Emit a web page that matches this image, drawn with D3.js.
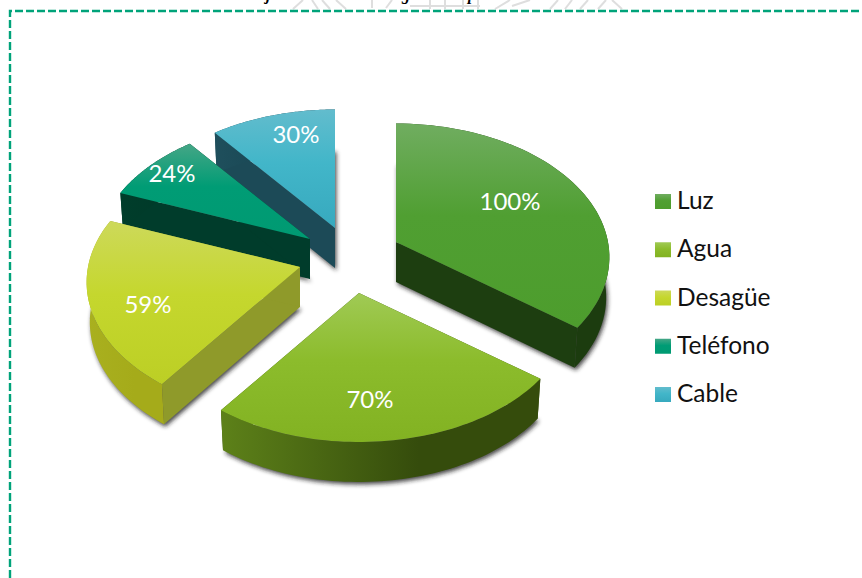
<!DOCTYPE html>
<html><head><meta charset="utf-8">
<script src="https://cdn.jsdelivr.net/npm/d3@7"></script>
<style>html,body{margin:0;padding:0;background:#fff}svg{display:block}text{font-family:Lato,Carlito,sans-serif}</style>
</head><body><div id="c"></div>
<script>
const categories = ["Luz","Agua","Desagüe","Teléfono","Cable"];
const values = [100,70,59,24,30];
const labels = ["100%","70%","59%","24%","30%"];

// layout / style only
const W=862,H=578,R=212,RY=132,K=0.114,DEPTH=40,SHRINK=0.985;
const apex=[[396,242],[359,293],[300,267],[310,239],[335,228]];
const labelPos=[[510,202],[370,400],[148,305],[172,174],[296,135]];
const topStops=[
 ["#70ad60","#509f32","#4d9d2d"],["#a0ca55","#8cbc2c","#82b222"],
 ["#cdd95a","#c5d72e","#bccf25"],["#45a686","#009c75","#009a72"],["#62bccd","#42b6c9","#37a9be"]];
const wallColors=[["#1e4011","#1c3c0f"],["#5d8119","#354c0c"],["#a9b01f","#a5ab1a"],["#003d2b","#003a29"],["#1f4f5c","#164451"]];
const sideColors=["#1d3e10","#3c540f","#8f9a2a","#003c2b","#1c4a57"];
const order=[4,3,0,2,1];

const svg=d3.select("#c").append("svg").attr("width",W).attr("height",H);
const defs=svg.append("defs");
const f=defs.append("filter").attr("id","sh").attr("x","-10%").attr("y","-10%").attr("width","125%").attr("height","125%");
f.append("feGaussianBlur").attr("stdDeviation",2);

const pie=d3.pie().sort(null).value(d=>d)(values);
const color=d3.scaleOrdinal(categories,d3.range(categories.length));

categories.forEach((c,i)=>{
  const g=defs.append("linearGradient").attr("id","top"+i).attr("x1",0).attr("y1",0).attr("x2",0).attr("y2",1);
  [0,.45,1].forEach((o,j)=>g.append("stop").attr("offset",o).attr("stop-color",topStops[i][j]));
  const w=defs.append("linearGradient").attr("id","wall"+i).attr("x1",0).attr("y1",0).attr("x2",1).attr("y2",0);
  w.append("stop").attr("offset",0).attr("stop-color",wallColors[i][0]);
  w.append("stop").attr("offset",.62).attr("stop-color",wallColors[i][1]);
});

// faint watermark strokes at the page head
const wm=[[293,9,303,0],[318,9,312,0],[330,9,322,0],[346,9,336,0],[372,8,372,0],[386,8,392,0],[410,6,480,6],[430,9,430,0],[445,9,445,0],[463,9,463,0],[478,9,478,0],[495,9,510,0],[512,6,530,0],[550,9,558,0],[565,9,572,0],[580,9,588,0],[598,9,606,0],[622,9,612,0]];
svg.append("g").attr("stroke","#dedede").attr("stroke-width",2).selectAll("line").data(wm).join("line")
  .attr("x1",d=>d[0]).attr("y1",d=>d[1]).attr("x2",d=>d[2]).attr("y2",d=>d[3]);
// cut-off heading above the frame
svg.append("g").attr("fill","#000").style("font-style","italic").style("font-weight","bold").style("font-size","16px")
  .selectAll("text").data([["j",266],["g",402],["p",468]]).join("text")
  .style("font-family","'Liberation Serif',serif").attr("x",d=>d[1]).attr("y",0).text(d=>d[0]);

// dashed frame
svg.append("path").attr("d",d3.line()([[10,H],[10,11],[W,11]])).attr("fill","none")
  .attr("stroke","#00a37a").attr("stroke-width",2.4).attr("stroke-dasharray","8 3");

function project(t,a,down){
  const u=Math.sin(t),v=-Math.cos(t),d=1-K*v,s=down?SHRINK:1;
  return [a[0]+s*R*u/d, a[1]+RY*v/d+(down?DEPTH:0)];
}
const line=d3.line();
const ring=(t0,t1,a,down)=>d3.range(0,61).map(j=>project(t0+(t1-t0)*j/60,a,down));

const layer=svg.append("g");
order.forEach(i=>{
  const p=pie[i],a=apex[i],idx=color(categories[i]);
  const g=layer.append("g");
  const A=a,AB=[a[0],a[1]+DEPTH];
  const side=t=>[A,project(t,a,false),project(t,a,true),AB];
  // soft shadow cast by the underside of the slice
  g.append("path").attr("d",line([AB].concat(ring(p.startAngle,p.endAngle,a,true)))+"Z")
    .attr("transform","translate(1.5,2.5)").attr("fill","#222").attr("fill-opacity",.8).attr("filter","url(#sh)");
  g.append("path").attr("d",line(side(p.startAngle))+"Z").attr("fill",sideColors[idx]);
  g.append("path").attr("d",line(side(p.endAngle))+"Z").attr("fill",sideColors[idx]);
  g.append("path").attr("d",line(ring(p.startAngle,p.endAngle,a,false).concat(ring(p.endAngle,p.startAngle,a,true)))+"Z").attr("fill",`url(#wall${idx})`);
  g.append("path").attr("d",line([a].concat(ring(p.startAngle,p.endAngle,a,false)))+"Z").attr("fill",`url(#top${idx})`);
});

svg.append("g").selectAll("text").data(labels).join("text")
  .attr("x",(d,i)=>labelPos[i][0]).attr("y",(d,i)=>labelPos[i][1]+8)
  .attr("text-anchor","middle").attr("fill","#fff").style("font-size","24px").text(d=>d);

const legY=d3.scalePoint(categories,[194,387]);
const leg=svg.append("g").selectAll("g").data(categories).join("g").attr("transform",d=>`translate(655,${legY(d)})`);
leg.append("rect").attr("width",16).attr("height",15).attr("fill",d=>`url(#top${color(d)})`);
leg.append("text").attr("x",22).attr("y",15).attr("fill","#111").style("font-size","24.5px").text(d=>d);
</script></body></html>
